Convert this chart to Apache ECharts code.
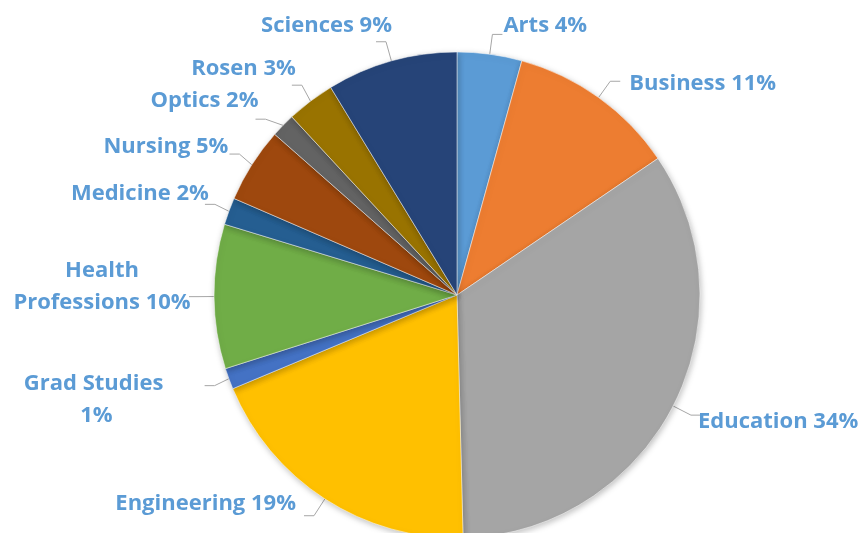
<!DOCTYPE html>
<html>
<head>
<meta charset="utf-8">
<script src="https://cdn.jsdelivr.net/npm/echarts@6/dist/echarts.min.js"></script>
<style>
  html, body { margin: 0; padding: 0; background: #fff; }
  #chart { width: 864px; height: 533px; }
</style>
</head>
<body>
<div id="chart"></div>
<script>
// 学院名称
const colleges = ['Arts', 'Business', 'Education', 'Engineering', 'Grad Studies',
  'Health Professions', 'Medicine', 'Nursing', 'Optics', 'Rosen', 'Sciences']
// 占比（从图上估计）
const shares = [4.3, 11.2, 34.1, 19.1, 1.4, 9.6, 1.8, 5.0, 1.6, 3.2, 8.7]
// 颜色
const colors = ['#5B9BD5', '#ED7D31', '#A5A5A5', '#FFC000', '#4472C4',
  '#70AD47', '#255E91', '#9E480E', '#636363', '#997300', '#264478']
// 标签里的换行
const labelNames = ['Arts', 'Business', 'Education', 'Engineering', 'Grad Studies\n',
  'Health\nProfessions', 'Medicine', 'Nursing', 'Optics', 'Rosen', 'Sciences']
// 标签微调 [dx, dy]
const labelNudge = [[-4, -9], [4, 2], [-8, 7], [-3, -12], [-106, 14],
  [-82, -10], [9, -11], [4, -7], [8, -18], [9, -16], [21, -16]]

const chart = echarts.init(document.getElementById('chart'))

const option = {
  animation: false,
  color: colors,
  series: [
    {
      type: 'pie',
      center: [457, 295],
      radius: [0, 243],
      startAngle: 90,
      clockwise: true,
      avoidLabelOverlap: true,
      itemStyle: {
        borderColor: '#fff',
        borderWidth: 0.5,
        shadowBlur: 6,
        shadowOffsetX: 1,
        shadowOffsetY: 2,
        shadowColor: 'rgba(0,0,0,0.25)',
      },
      label: {
        show: true,
        position: 'outside',
        color: '#5B9BD5',
        fontFamily: 'Open Sans',
        fontWeight: 'bold',
        fontSize: 22,
        lineHeight: 32,
        overflow: 'none',
        formatter: function (p) {
          return labelNames[p.dataIndex] + ' ' + Math.round(p.percent) + '%'
        },
      },
      labelLine: {
        show: true,
        length: 20,
        length2: 10,
        lineStyle: { color: '#A6A6A6', width: 1 },
      },
      labelLayout: function (params) {
        const n = labelNudge[params.dataIndex]
        const res = { dx: n[0], dy: n[1] }
        if (params.dataIndex === 4 || params.dataIndex === 5) {
          res.align = 'center'
        }
        return res
      },
      data: colleges.map((name, i) => ({ name: name, value: shares[i] })),
    },
  ],
}

chart.setOption(option)
</script>
</body>
</html>
